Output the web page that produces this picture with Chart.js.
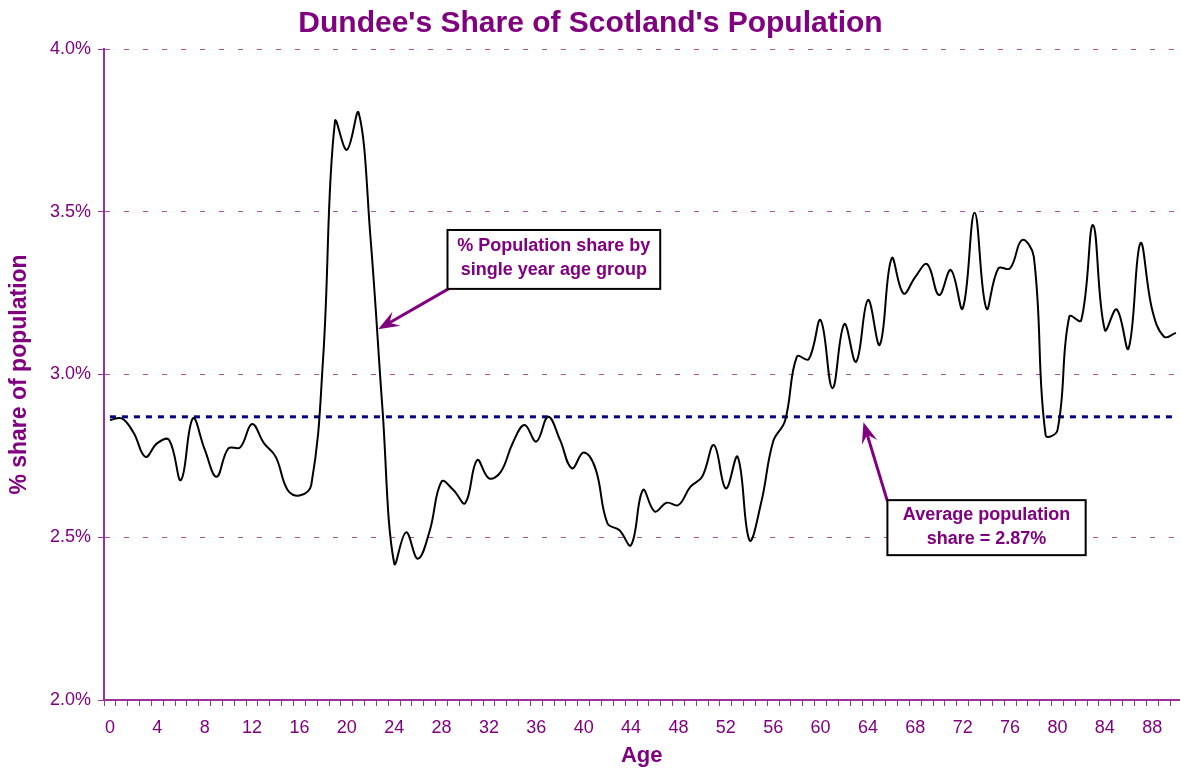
<!DOCTYPE html>
<html>
<head>
<meta charset="utf-8">
<script src="https://cdn.jsdelivr.net/npm/chart.js@4"></script>
<style>
  html, body { margin: 0; padding: 0; background: #fff; }
  #wrap { width: 1181px; height: 769px; }
</style>
</head>
<body>
<div id="wrap"><canvas id="chart" width="1181" height="769"></canvas></div>
<script>
const FONT = "Arial, 'Liberation Sans', sans-serif";
const PURPLE = '#800080';
const AXIS = '#993399';

// single year of age, 0 - 90
const AGES = [0,1,2,3,4,5,6,7,8,9,10,11,12,13,14,15,16,17,18,19,20,21,22,23,24,25,26,27,28,29,
  30,31,32,33,34,35,36,37,38,39,40,41,42,43,44,45,46,47,48,49,50,51,52,53,54,55,56,57,58,59,
  60,61,62,63,64,65,66,67,68,69,70,71,72,73,74,75,76,77,78,79,80,81,82,83,84,85,86,87,88,89,90];

// Dundee % share of Scotland, by age
const SHARE = [2.860, 2.865, 2.821, 2.747, 2.789, 2.799, 2.676, 2.865, 2.770, 2.686,
  2.773, 2.776, 2.848, 2.789, 2.747, 2.645, 2.628, 2.661, 3.050, 3.777,
  3.690, 3.804, 3.420, 2.900, 2.420, 2.515, 2.434, 2.520, 2.671, 2.645,
  2.605, 2.737, 2.681, 2.701, 2.789, 2.845, 2.794, 2.870, 2.799, 2.712,
  2.760, 2.710, 2.543, 2.522, 2.476, 2.645, 2.579, 2.606, 2.599, 2.655,
  2.686, 2.783, 2.650, 2.747, 2.491, 2.609, 2.795, 2.858, 3.055, 3.047,
  3.167, 2.958, 3.155, 3.039, 3.229, 3.091, 3.357, 3.249, 3.300, 3.339,
  3.244, 3.321, 3.203, 3.497, 3.203, 3.326, 3.326, 3.413, 3.362, 2.814,
  2.829, 3.178, 3.166, 3.459, 3.137, 3.200, 3.080, 3.403, 3.198, 3.116, 3.128];

const AVG_SHARE = 2.87;
const Y_MIN = 2.0, Y_MAX = 4.0, Y_STEP = 0.5;
const X_MIN = -0.5, X_MAX = 90.3;   // plot runs a touch past the right edge
const LABEL_EVERY = 4;

// call-out boxes, in data units (age, %)
const NOTES = [
  { lines: ['% Population share by', 'single year age group'],
    box: [28.5, 3.444, 46.46, 3.263], from: [28.58, 3.263], to: [22.65, 3.139] },
  { lines: ['Average population', 'share = 2.87%'],
    box: [65.64, 2.614, 82.38, 2.445], from: [65.64, 2.611], to: [63.62, 2.853] }
];

Chart.register({
  id: 'notes',
  afterDraw(chart) {
    const { ctx, scales: { x, y } } = chart;
    NOTES.forEach(n => {
      const fx = x.getPixelForValue(n.from[0]), fy = y.getPixelForValue(n.from[1]);
      const tx = x.getPixelForValue(n.to[0]), ty = y.getPixelForValue(n.to[1]);
      const ang = Math.atan2(ty - fy, tx - fx);
      ctx.save();
      ctx.strokeStyle = PURPLE; ctx.fillStyle = PURPLE; ctx.lineWidth = 3;
      ctx.beginPath();
      ctx.moveTo(fx, fy);
      ctx.lineTo(tx - Math.cos(ang) * 12, ty - Math.sin(ang) * 12);
      ctx.stroke();
      ctx.translate(tx, ty); ctx.rotate(ang);
      ctx.beginPath();
      ctx.moveTo(0, 0); ctx.lineTo(-21, -8); ctx.lineTo(-13, 0); ctx.lineTo(-21, 8);
      ctx.closePath(); ctx.fill();
      ctx.restore();

      const l = x.getPixelForValue(n.box[0]), t = y.getPixelForValue(n.box[1]);
      const r = x.getPixelForValue(n.box[2]), b = y.getPixelForValue(n.box[3]);
      ctx.save();
      ctx.fillStyle = '#fff'; ctx.fillRect(l, t, r - l, b - t);
      ctx.strokeStyle = '#000'; ctx.lineWidth = 2; ctx.strokeRect(l, t, r - l, b - t);
      ctx.fillStyle = PURPLE;
      ctx.font = `bold 18px ${FONT}`;
      ctx.textAlign = 'center'; ctx.textBaseline = 'middle';
      const cx = (l + r) / 2, cy = (t + b) / 2 - 1;
      n.lines.forEach((s, i) => ctx.fillText(s, cx, cy + (i - (n.lines.length - 1) / 2) * 24));
      ctx.restore();
    });
  }
});

const shareTable = AGES.map((a, i) => ({ x: a, y: SHARE[i] }));

new Chart(document.getElementById('chart'), {
  type: 'line',
  data: {
    datasets: [
      { data: shareTable, borderColor: '#000', borderWidth: 2, tension: 0.4, pointRadius: 0, fill: false },
      { data: [{ x: AGES[0], y: AVG_SHARE }, { x: AGES[AGES.length - 1], y: AVG_SHARE }],
        borderColor: '#000080', borderWidth: 3, borderDash: [6, 6], pointRadius: 0, tension: 0, fill: false }
    ]
  },
  options: {
    responsive: false,
    animation: false,
    layout: { padding: 0 },
    plugins: {
      legend: { display: false },
      tooltip: { enabled: false },
      title: {
        display: true, text: "Dundee's Share of Scotland's Population", color: PURPLE,
        font: { family: FONT, size: 30, weight: 'bold' }, padding: { top: 6, bottom: 7 }
      }
    },
    scales: {
      x: {
        type: 'linear', min: X_MIN, max: X_MAX,
        // tick marks sit between ages, labels on every 4th age
        afterBuildTicks: s => {
          const t = [];
          AGES.forEach(a => {
            t.push({ value: a - 0.5 });
            if (a % LABEL_EVERY === 0) t.push({ value: a });
          });
          s.ticks = t;
        },
        grid: {
          drawOnChartArea: false, tickLength: 6,
          tickColor: c => Number.isInteger(c.tick && c.tick.value) ? 'rgba(0,0,0,0)' : AXIS
        },
        border: { color: AXIS, width: 2 },
        ticks: {
          autoSkip: false, maxRotation: 0, color: PURPLE, padding: 11,
          font: { family: FONT, size: 18 },
          callback: v => Number.isInteger(v) ? String(v) : ''
        },
        title: { display: true, text: 'Age', color: PURPLE, font: { family: FONT, size: 22, weight: 'bold' }, padding: 0 },
        afterFit: s => { s.height = 69; }
      },
      y: {
        min: Y_MIN, max: Y_MAX,
        grid: { color: 'rgba(153,51,153,0.85)', tickLength: 6, tickColor: AXIS },
        border: { color: AXIS, width: 2, dash: [5, 14] },
        ticks: {
          stepSize: Y_STEP, color: PURPLE, padding: 7,
          font: { family: FONT, size: 18 },
          callback: v => v.toFixed(1) + '%'
        },
        title: { display: true, text: '% share of population', color: PURPLE, font: { family: FONT, size: 23, weight: 'bold' }, padding: { top: 6, bottom: 0 } },
        afterFit: s => { s.width = 104; }
      }
    }
  }
});
</script>
</body>
</html>
